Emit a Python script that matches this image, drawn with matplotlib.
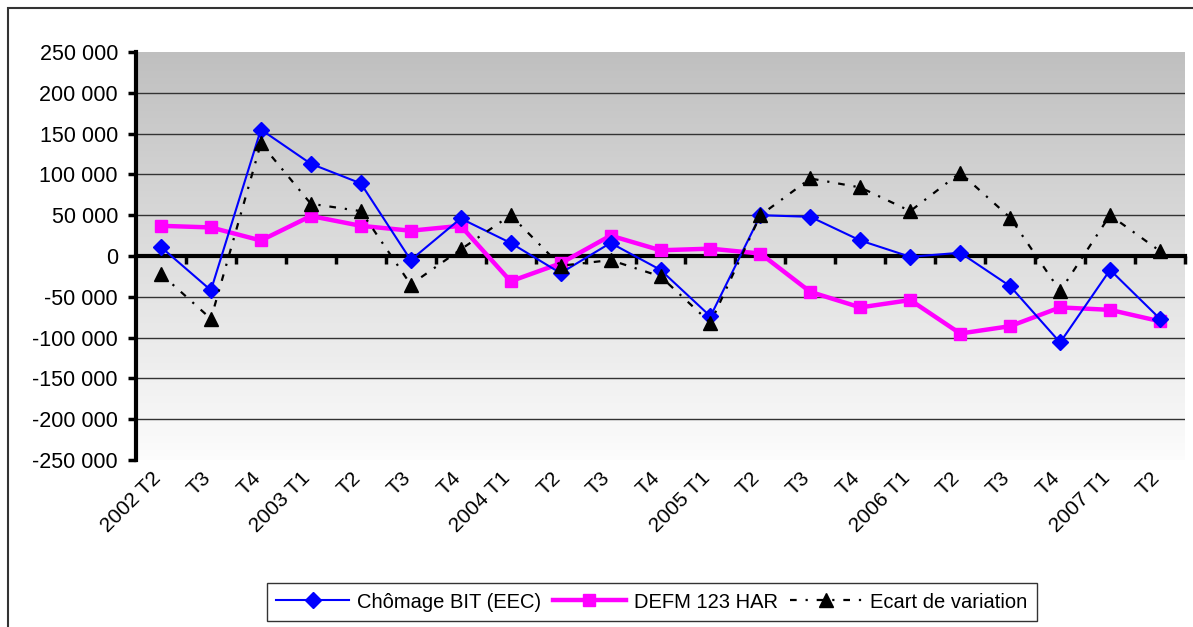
import numpy as np
import matplotlib.pyplot as plt
import matplotlib.transforms as mtransforms
from matplotlib.patches import Rectangle
from matplotlib.ticker import FuncFormatter

plt.rcParams['font.family'] = ['Liberation Sans', 'DejaVu Sans']

quarters = ['2002 T2', 'T3', 'T4', '2003 T1', 'T2', 'T3', 'T4', '2004 T1', 'T2', 'T3', 'T4',
            '2005 T1', 'T2', 'T3', 'T4', '2006 T1', 'T2', 'T3', 'T4', '2007 T1', 'T2']

# Chômage BIT (EEC)
bit = [11000, -42000, 155000, 113000, 89000, -5000, 46000, 16000, -21000, 16000, -17000,
       -74000, 50000, 48000, 19000, -1000, 4000, -37000, -106000, -17000, -77000]
# DEFM 123 HAR
defm = [37000, 35000, 19000, 49000, 37000, 31000, 37000, -31000, -9000, 25000, 7000,
        9000, 3000, -44000, -63000, -54000, -95000, -86000, -63000, -66000, -80000]
# Ecart de variation
ecart = [-22000, -77000, 138000, 64000, 55000, -35000, 8000, 50000, -12000, -5000, -25000,
         -82000, 50000, 95000, 84000, 55000, 102000, 47000, -43000, 50000, 6000]

yticks = list(range(-250000, 250001, 50000))

fig = plt.figure(figsize=(11.93, 6.27), dpi=100)
ax = fig.add_axes([136/1193, 167/627, 1049/1193, 408/627])

x = np.arange(len(quarters))
ax.set_xlim(-0.5, len(quarters) - 0.5)
ax.set_ylim(-250000, 250000)

# gradient background: grey at top, near white at bottom
g = np.linspace(0.75, 0.99, 256).reshape(-1, 1)
rgb = np.dstack([g, g, g])
ax.imshow(rgb, aspect='auto', extent=(-0.5, len(quarters) - 0.5, -250000, 250000),
          origin='upper', zorder=0, interpolation='bilinear')

for v in yticks[1:-1]:
    if v != 0:
        ax.axhline(v, color='#333333', lw=1.0, zorder=1)

ax.plot(x, bit, color='#0000ff', lw=1.5, marker='D', ms=8, zorder=4, label='Chômage BIT (EEC)')
ax.plot(x, defm, color='#ff00ff', lw=3.2, marker='s', ms=9, zorder=3, label='DEFM 123 HAR')
ax.plot(x, ecart, color='black', lw=1.6, ls=(0, (3, 4, 1, 4)), marker='^', ms=10, zorder=5,
        label='Ecart de variation')

# axes
for s in ['top', 'right']:
    ax.spines[s].set_visible(False)
ax.spines['bottom'].set_position(('data', 0))
ax.spines['bottom'].set_linewidth(3)
ax.spines['bottom'].set_zorder(2)
ax.spines['left'].set_linewidth(3)
ax.set_yticks(yticks)
ax.yaxis.set_major_formatter(FuncFormatter(lambda v, p: f'{int(v):,}'.replace(',', ' ')))
ax.tick_params(axis='y', direction='out', length=6, width=2.5, labelsize=15.5, pad=7)
ax.set_xticks(np.arange(len(quarters)) + 0.5)
ax.set_xticklabels([])
ax.tick_params(axis='x', direction='out', length=6, width=2.5)

trans = mtransforms.blended_transform_factory(ax.transData, ax.transAxes)
for i, q in enumerate(quarters):
    ax.text(i - 0.2, -0.02, q, transform=trans, rotation=45, ha='right', va='top',
            rotation_mode='anchor', fontsize=15)

leg = fig.legend(loc='center', bbox_to_anchor=(652/1193, 25/627), ncol=3, fontsize=14.5,
                 frameon=True, fancybox=False, edgecolor='black', handlelength=3.6,
                 columnspacing=0.6, handletextpad=0.4, borderpad=0.45)
leg.get_frame().set_linewidth(1.0)

# outer chart border
fig.patches.append(Rectangle((8/1193, -0.05), 1.2, 1 - 8/627 + 0.05, transform=fig.transFigure,
                             fill=False, edgecolor='#333333', lw=1.5))

fig.savefig('out.png', dpi=100)
